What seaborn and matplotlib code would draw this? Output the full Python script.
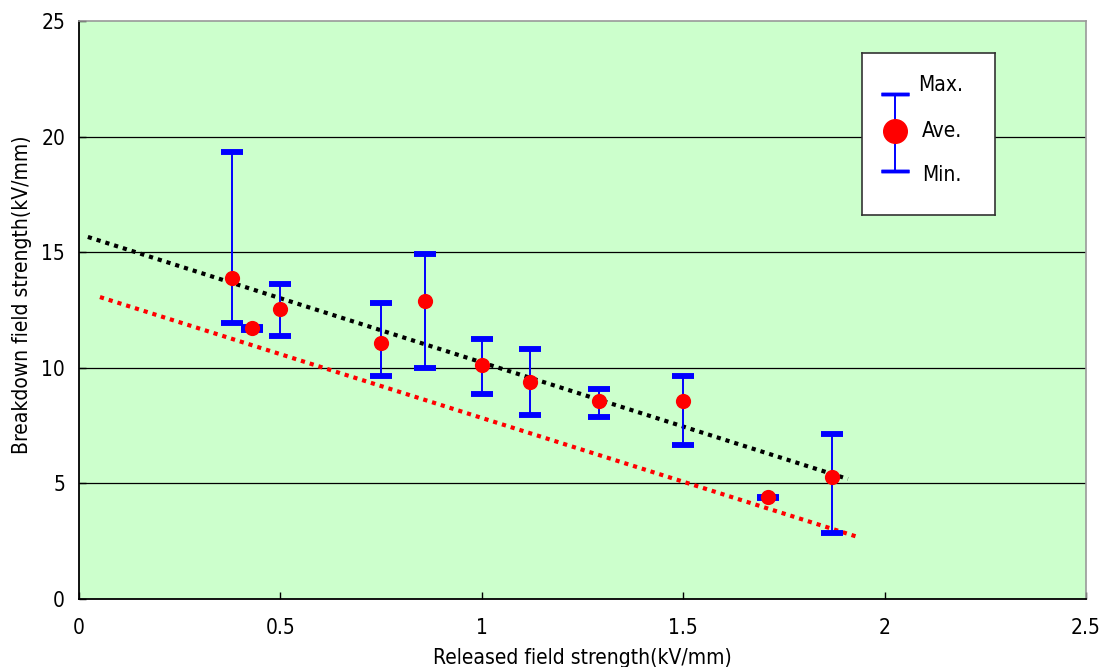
import numpy as np
import pandas as pd
import matplotlib
matplotlib.use("Agg")
import matplotlib.pyplot as plt
import seaborn as sns
from matplotlib import font_manager

# ---- data ----
released = [0.38, 0.43, 0.50, 0.75, 0.86, 1.00, 1.12, 1.29, 1.50, 1.71, 1.87]
ave_vals = [13.88, 11.70, 12.54, 11.07, 12.89, 10.12, 9.39, 8.56, 8.56, 4.41, 5.28]
max_vals = [19.33, 11.75, 13.62, 12.80, 14.92, 11.25, 10.81, 9.08, 9.65, 4.42, 7.14]
min_vals = [11.94, 11.65, 11.38, 9.65, 9.99, 8.87, 7.96, 7.87, 6.66, 4.37, 2.85]

trend_black_x = [0.022, 1.909]
trend_black_y = [15.66, 5.19]
trend_red_x = [0.052, 1.934]
trend_red_y = [13.06, 2.68]

x_ticks = [0, 0.5, 1, 1.5, 2, 2.5]
x_tick_labels = ["0", "0.5", "1", "1.5", "2", "2.5"]
y_ticks = [0, 5, 10, 15, 20, 25]
legend_labels = ["Max.", "Ave.", "Min."]
x_label = "Released field strength(kV/mm)"
y_label = "Breakdown field strength(kV/mm)"

# ---- style ----
sns.set_theme(style="white")
available = {f.name for f in font_manager.fontManager.ttflist}
if "Liberation Sans Narrow" in available:
    fam = "Liberation Sans Narrow"
elif "DejaVu Sans Condensed" in available:
    fam = "DejaVu Sans Condensed"
else:
    fam = "DejaVu Sans"
plt.rcParams["font.family"] = [fam, "DejaVu Sans"]
plt.rcParams["font.stretch"] = "condensed"

df = pd.DataFrame({"x": released, "ave": ave_vals, "max": max_vals, "min": min_vals})

fig = plt.figure(figsize=(10.99, 6.67), dpi=100)
fig.patch.set_facecolor("white")
ax = fig.add_axes([79 / 1099, 68 / 667, (1086 - 79) / 1099, (599 - 21) / 667])
ax.set_facecolor("#CCFFCC")

# grid lines
for yv in y_ticks[1:-1]:
    ax.axhline(yv, color="black", lw=0.9, zorder=1)

# trend lines
sns.lineplot(x=trend_black_x, y=trend_black_y, ax=ax, color="black", lw=3,
             linestyle=(0, (1, 1.2)), zorder=2)
sns.lineplot(x=trend_red_x, y=trend_red_y, ax=ax, color="#FF0000", lw=3,
             linestyle=(0, (1, 1.2)), zorder=2)

# error bars (min to max)
ax.vlines(df["x"], df["min"], df["max"], color="#0000FF", lw=1.4, zorder=3)
ax.errorbar(df["x"], df["max"], yerr=0, fmt="none", ecolor="#0000FF",
            capsize=8, capthick=4, elinewidth=0, zorder=3)
ax.errorbar(df["x"], df["min"], yerr=0, fmt="none", ecolor="#0000FF",
            capsize=8, capthick=4, elinewidth=0, zorder=3)

# averages
sns.scatterplot(data=df, x="x", y="ave", ax=ax, color="#FF0000", s=120,
                edgecolor="#FF0000", linewidth=0, zorder=4, legend=False)

ax.set_xlim(0, 2.5)
ax.set_ylim(0, 25)
ax.set_xticks(x_ticks)
ax.set_xticklabels(x_tick_labels)
ax.set_yticks(y_ticks)
ax.tick_params(axis="both", direction="in", length=5, width=1, color="black",
               labelsize=15, labelcolor="black", bottom=True, left=True)
ax.tick_params(axis="x", pad=14)
ax.tick_params(axis="y", pad=10)
ax.set_xlabel(x_label, fontsize=15, color="black", labelpad=7)
ax.set_ylabel(y_label, fontsize=15, color="black")
ax.yaxis.set_label_coords(-0.047, 0.526)

for side in ["left", "bottom"]:
    ax.spines[side].set_color("black")
    ax.spines[side].set_linewidth(1.3)
for side in ["top", "right"]:
    ax.spines[side].set_visible(True)
    ax.spines[side].set_color("#999999")
    ax.spines[side].set_linewidth(1.2)

# legend box
lax = fig.add_axes([862 / 1099, (667 - 215) / 667, (995 - 862) / 1099, (215 - 53) / 667])
lax.set_facecolor("white")
lax.set_xlim(0, 1)
lax.set_ylim(0, 1)
lax.set_xticks([])
lax.set_yticks([])
for s in lax.spines.values():
    s.set_color("#333333")
    s.set_linewidth(1.2)
lax.vlines([0.25], [0.27], [0.75], color="#0000FF", lw=1.4)
lax.errorbar([0.25], [0.75], yerr=0, fmt="none", ecolor="#0000FF", capsize=10,
             capthick=2.5, elinewidth=0)
lax.errorbar([0.25], [0.27], yerr=0, fmt="none", ecolor="#0000FF", capsize=10,
             capthick=2.5, elinewidth=0)
lax.plot([0.25], [0.52], "o", color="#FF0000", markersize=17)
lax.text(0.42, 0.80, legend_labels[0], fontsize=15, va="center", ha="left", color="black")
lax.text(0.45, 0.52, legend_labels[1], fontsize=15, va="center", ha="left", color="black")
lax.text(0.45, 0.25, legend_labels[2], fontsize=15, va="center", ha="left", color="black")

fig.savefig("out.png", dpi=100)
